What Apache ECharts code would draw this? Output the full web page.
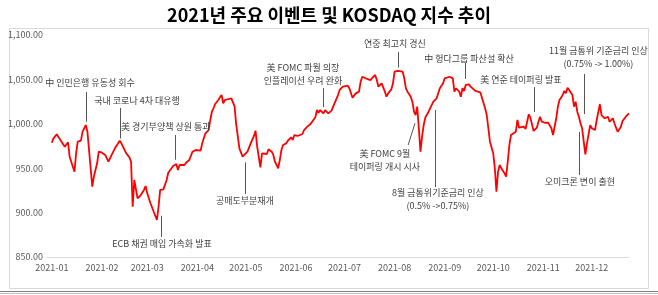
<!DOCTYPE html>
<html>
<head>
<meta charset="utf-8">
<script src="https://cdn.jsdelivr.net/npm/echarts@6/dist/echarts.min.js"></script>
<style>
  html, body { margin: 0; padding: 0; background: #fff; }
  #main { width: 658px; height: 295px; }
</style>
</head>
<body>
<div id="main"></div>
<script>
// 거래일 (2021년 1월 1일 = 1 인 연중 일자)
var tradeDay = [
  4, 5, 6, 7, 8, 10, 12, 14, 15, 18, 19, 20, 22, 23, 25, 26, 27, 29, 30,
  32, 33, 34, 35, 37, 39, 41, 43, 46, 47, 48, 50, 52, 53, 54, 55, 57, 59,
  61, 62, 63, 65, 67, 69, 70, 71, 73, 74, 75, 76, 78, 79, 81, 82, 83, 84, 86, 87, 88, 89, 90,
  91, 93, 94, 96, 97, 98, 99, 101, 102, 103, 104, 105, 107, 108, 109, 110, 111, 112, 115, 116, 117, 118, 119, 120,
  122, 123, 125, 126, 127, 129, 130, 131, 133, 134, 135, 137, 138, 140, 141, 142, 144, 145, 146, 147, 149, 150, 151,
  152, 153, 154, 156, 157, 159, 160, 162, 164, 165, 167, 168, 169, 170, 172, 173, 175, 177, 178,
  181, 182, 184, 185, 187, 188, 190, 191, 192, 194, 195, 196, 197, 199, 200, 201, 202, 204, 205, 206, 208, 209, 210, 211, 212,
  213, 214, 215, 216, 218, 219, 221, 222, 223, 224, 226, 227, 228, 229, 230, 231, 232, 233, 234, 235, 237, 239, 240, 242, 243,
  244, 246, 247, 248, 250, 251, 252, 253, 254, 256, 257, 258, 259, 260, 262, 263, 264, 266, 267, 269, 270, 272, 273,
  274, 275, 277, 278, 279, 280, 281, 282, 284, 285, 286, 287, 288, 289, 291, 292, 293, 294, 296, 297, 299, 300, 302, 304,
  305, 306, 307, 309, 311, 312, 313, 314, 316, 317, 318, 320, 321, 322, 323, 324, 326, 327, 328, 329, 330, 331, 332, 333, 334,
  335, 336, 337, 338, 340, 341, 343, 344, 345, 346, 348, 349, 351, 352, 353, 354, 356, 357, 359, 361
];

var kosdaq = [
  978.7, 983.6, 981.8, 988.2, 985.5, 979.9, 974.2, 979.2, 963.0, 946.1, 966.8, 979.9, 981.0, 991.1, 998.6, 991.1, 970.5, 929.2, 940.6,
  955.5, 968.6, 966.8, 967.5, 964.9, 957.3, 964.9, 972.4, 981.0, 978.0, 978.7, 966.8, 962.2, 957.3, 906.6, 936.7, 916.1, 919.8,
  925.5, 929.9, 921.7, 910.5, 901.0, 891.7, 906.6, 925.5, 926.2, 927.4, 936.7, 944.9, 949.9, 952.5, 954.7, 948.0, 953.6, 955.5, 953.6, 956.2, 955.5, 959.2, 957.3,
  968.6, 970.5, 969.7, 969.7, 978.0, 983.7, 989.3, 993.0, 1004.3, 1013.6, 1017.5, 1022.3, 1026.8, 1029.8, 1032.4, 1023.1, 1026.8, 1026.8, 1028.7, 1029.8, 1020.0, 1000.0, 986.0, 972.4,
  963.0, 962.2, 968.6, 970.5, 978.0, 986.3, 992.3, 974.2, 951.0, 966.8, 968.6, 966.0, 971.3, 968.6, 964.9, 957.3, 949.9, 959.2, 970.5, 976.1, 978.0, 981.0, 982.5,
  984.8, 981.8, 987.4, 986.3, 988.5, 988.5, 993.0, 996.8, 999.8, 1002.4, 1007.3, 1015.5, 1012.5, 1015.5, 1011.8, 1015.5, 1011.8, 1014.8, 1019.3,
  1032.4, 1038.1, 1041.8, 1043.7, 1042.9, 1040.0, 1029.4, 1030.5, 1034.3, 1036.2, 1047.4, 1053.0, 1051.2, 1050.5, 1051.9, 1049.3, 1051.2, 1055.0, 1049.3, 1041.8, 1045.6, 1043.7, 1036.2, 1030.5, 1034.3,
  1036.2, 1038.8, 1045.6, 1058.7, 1059.5, 1059.5, 1058.7, 1051.2, 1040.0, 1036.2, 1030.5, 1024.9, 1013.6, 1009.9, 1019.3, 995.0, 968.6, 985.5, 998.6, 1007.0, 1013.6, 1021.2, 1024.9, 1028.7, 1034.3,
  1040.0, 1045.6, 1051.2, 1053.0, 1053.0, 1053.0, 1051.2, 1036.2, 1040.0, 1036.2, 1030.5, 1040.0, 1037.0, 1043.7, 1044.5, 1041.8, 1040.0, 1037.0, 1035.5, 1035.5, 1034.3, 1017.5, 1009.9,
  995.0, 979.9, 966.8, 950.0, 923.5, 946.1, 953.6, 949.9, 944.3, 940.6, 957.3, 976.1, 987.4, 989.3, 991.1, 1004.3, 995.6, 995.6, 996.8, 994.1, 1010.7, 1006.9, 991.9, 995.6,
  1002.4, 1008.0, 1002.4, 1001.2, 1001.2, 1002.4, 995.0, 987.4, 1006.2, 1019.3, 1026.8, 1032.4, 1037.0, 1034.3, 1040.7, 1038.1, 1032.4, 1019.3, 1024.9, 1013.6, 1008.0, 1000.6, 995.0, 979.9, 965.6,
  978.0, 976.9, 998.6, 995.0, 993.0, 1004.3, 1022.0, 1009.9, 1008.0, 1006.2, 1008.0, 1002.4, 1006.2, 1000.6, 995.6, 991.1, 996.8, 1003.2, 1008.0, 1011.8
];

var tickLabels = ['2021-01', '2021-02', '2021-03', '2021-04', '2021-05', '2021-06',
                  '2021-07', '2021-08', '2021-09', '2021-10', '2021-11', '2021-12'];

// 주요 이벤트: 글자 위치(일자, 지수), 화살표 시작, 화살표 끝
var events = [
  { text: '中 인민은행 유동성 회수', at: [27.6, 1045.9], from: [25.1, 1035.8], to: [25.1, 1002.5] },
  { text: '국내 코로나 4차 대유행', at: [56.7, 1025.7], from: [46.6, 1017.8], to: [46.6, 983.5] },
  { text: '美 경기부양책 상원 통과', at: [74.5, 996.4], from: [80.2, 987.4], to: [80.2, 959.5] },
  { text: 'ECB 채권 매입 가속화 발표', at: [72.1, 864.6], from: [71.9, 872.5], to: [71.9, 896.5] },
  { text: '공매도부분재개', at: [123.4, 913.0], from: [123.4, 920.9], to: [123.4, 956.5] },
  { text: '美 FOMC 파월 의장\n인플레이션 우려 완화', at: [159.3, 1055.5], from: [171.7, 1040.3], to: [171.7, 1018.9] },
  { text: '연중 최고치 경신', at: [216.2, 1089.9], from: [218.1, 1080.9], to: [218.1, 1063.5] },
  { text: '中 헝다그룹 파산설 확산', at: [262.0, 1073.0], from: [259.9, 1068.5], to: [259.9, 1050.5] },
  { text: '美 FOMC 9월\n테이퍼링 개시 시사', at: [210.0, 959.2], from: [224.4, 976.1], to: [228.6, 1000.6] },
  { text: '8월 금통위기준금리 인상\n(0.5% ->0.75%)', at: [242.8, 915.3], from: [240.9, 928.8], to: [240.9, 1015.5] },
  { text: '美 연준 테이퍼링 발표', at: [294.1, 1049.3], from: [302.2, 1041.4], to: [302.2, 1013.3] },
  { text: '11월 금통위 기준금리 인상\n(0.75% -> 1.00%)', at: [342.1, 1074.7], from: [333.1, 1056.1], to: [333.1, 1011.0] },
  { text: '오미크론 변이 출현', at: [330.6, 934.5], from: [330.0, 942.3], to: [330.0, 990.8] }
];

// 매월 4일의 연중 일자 (눈금 위치)
var tickDays = tickLabels.map(function (t, m) {
  return Math.round((new Date(2021, m, 4) - new Date(2021, 0, 1)) / 86400000) + 1;
});

var seriesData = tradeDay.map(function (d, i) { return [d, kosdaq[i]]; });

var myChart = echarts.init(document.getElementById('main'));

var font = '"Noto Sans CJK KR", "Noto Sans", sans-serif';

option = {
    animation: false,
    backgroundColor: '#fff',
    title: {
        text: '2021년 주요 이벤트 및 KOSDAQ 지수 추이',
        left: 'center',
        top: 1,
        textStyle: { fontSize: 18, fontWeight: 'bold', color: '#000', fontFamily: font }
    },
    graphic: [
        { type: 'rect', shape: { x: 9.5, y: 28.5, width: 639, height: 260 },
          style: { fill: 'none', stroke: '#d9d9d9', lineWidth: 1 }, silent: true },
        { type: 'line', shape: { x1: 0, y1: 291.5, x2: 658, y2: 291.5 },
          style: { stroke: '#7f7f7f', lineWidth: 1 }, silent: true },
        { type: 'line', shape: { x1: 0, y1: 293.5, x2: 658, y2: 293.5 },
          style: { stroke: '#bfbfbf', lineWidth: 1 }, silent: true }
    ],
    grid: { left: 47, right: 29, top: 35, bottom: 38 },
    xAxis: {
        type: 'value',
        min: 1,
        max: 361,
        splitLine: { show: false },
        axisTick: { show: false },
        axisLine: { lineStyle: { color: '#d9d9d9' } },
        axisLabel: {
            customValues: tickDays,
            margin: 6,
            fontSize: 9,
            color: '#595959',
            fontFamily: font,
            formatter: function (v) { return tickLabels[tickDays.indexOf(v)]; }
        }
    },
    yAxis: {
        type: 'value',
        min: 850,
        max: 1100,
        interval: 50,
        splitLine: { show: false },
        axisLine: { show: false },
        axisTick: { show: false },
        axisLabel: {
            margin: 4,
            fontSize: 9,
            color: '#595959',
            fontFamily: font,
            formatter: function (v) {
                return v.toLocaleString('en-US', { minimumFractionDigits: 2, maximumFractionDigits: 2 });
            }
        }
    },
    series: [
        {
            type: 'line',
            data: seriesData,
            showSymbol: false,
            symbol: 'none',
            lineStyle: { color: '#ff0000', width: 1.8 },
            markLine: {
                silent: true,
                symbol: ['none', 'arrow'],
                symbolSize: [0, 5],
                label: { show: false },
                lineStyle: { color: '#555', width: 1, type: 'solid' },
                data: events.map(function (e) {
                    return [{ coord: e.from }, { coord: e.to }];
                })
            },
            markPoint: {
                silent: true,
                symbol: 'circle',
                symbolSize: 0,
                label: {
                    show: true,
                    position: 'inside',
                    fontSize: 9,
                    lineHeight: 13,
                    color: '#404040',
                    fontFamily: font,
                    formatter: function (p) { return p.name; }
                },
                data: events.map(function (e) {
                    return { name: e.text, coord: e.at };
                })
            }
        }
    ]
};

myChart.setOption(option);
</script>
</body>
</html>
